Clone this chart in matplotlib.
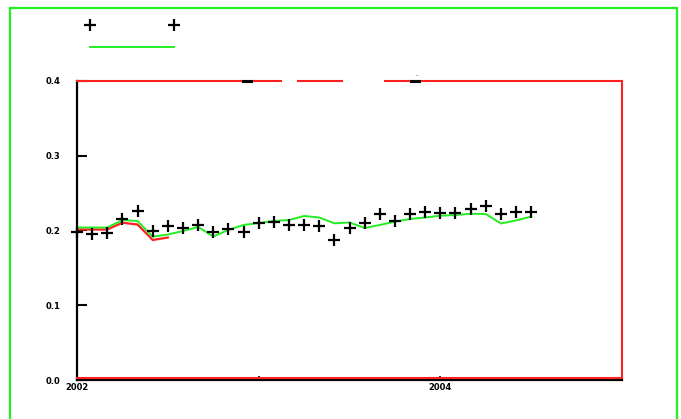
import matplotlib
matplotlib.use("Agg")
import matplotlib.pyplot as plt
from matplotlib.lines import Line2D
from matplotlib.patches import Rectangle
import numpy as np

# Monthly observations, Jan 2002 onward
start_year = 2002.0
observed = [0.198, 0.195, 0.196, 0.215, 0.2265, 0.1997, 0.206, 0.204, 0.208, 0.198,
            0.2016, 0.198, 0.2104, 0.2118, 0.208, 0.2074, 0.2064, 0.1873, 0.203, 0.2096,
            0.2217, 0.2131, 0.2221, 0.2243, 0.2230, 0.2230, 0.2284, 0.2328, 0.2217, 0.2252,
            0.2252]
# Smoothed trend over the full period
trend = [0.204, 0.204, 0.204, 0.214, 0.2127, 0.1917, 0.1946, 0.1993, 0.2047, 0.192,
         0.2007, 0.2074, 0.210, 0.2127, 0.214, 0.2194, 0.2174, 0.2096, 0.2107, 0.2033,
         0.2074, 0.2118, 0.2154, 0.2174, 0.2198, 0.2207, 0.2224, 0.222, 0.2094, 0.2134,
         0.2187]
# Early estimate covering the first months only
early = [0.2013, 0.2013, 0.2013, 0.2104, 0.208, 0.1873, 0.1906]

y_ticks = [0.0, 0.1, 0.2, 0.3, 0.4]
y_tick_labels = ["0.0", "0.1", "0.2", "0.3", "0.4"]
x_ticks = [2002, 2003, 2004]
x_tick_labels = ["2002", "", "2004"]

t_obs = start_year + np.arange(len(observed)) / 12.0
t_trend = start_year + np.arange(len(trend)) / 12.0
t_early = start_year + np.arange(len(early)) / 12.0

W, H = 681, 419
fig = plt.figure(figsize=(W / 100, H / 100), dpi=100)
ax = fig.add_axes([77 / W, 1 - 380 / H, (622 - 77) / W, (380 - 81) / H])

ax.plot(t_early, early, color="#ff2020", lw=1.6, zorder=2)
ax.plot(t_trend, trend, color="#22ee22", lw=1.4, zorder=3)
ax.plot(t_obs, observed, linestyle="none", marker="+", ms=9, mew=1.6,
        color="black", zorder=4, clip_on=False)

ax.set_xlim(2002, 2005)
ax.set_ylim(0.0, 0.4)

ax.set_yticks(y_ticks)
ax.set_yticklabels(y_tick_labels, fontsize=6, fontweight="bold")
ax.set_xticks(x_ticks)
ax.set_xticklabels(x_tick_labels, fontsize=6, fontweight="bold")
ax.tick_params(axis="y", direction="in", length=7, width=1.5, pad=12)
ax.tick_params(axis="x", direction="in", length=3, width=1.2, pad=2)

# frame: black left/bottom axes, red box elsewhere
for side in ("left", "bottom"):
    ax.spines[side].set_color("black")
    ax.spines[side].set_linewidth(1.6)
ax.spines["right"].set_color("#ff2020")
ax.spines["right"].set_linewidth(1.5)
ax.spines["top"].set_visible(False)
top_segments = [(0.0, (281 - 77) / 545), ((298 - 77) / 545, (342 - 77) / 545),
                ((385 - 77) / 545, 1.0)]
for a, b in top_segments:
    ax.plot([a, b], [1.0, 1.0], color="#ff2020", lw=1.5, transform=ax.transAxes,
            clip_on=False, zorder=5)
ax.plot([0, 1], [0.007, 0.007], color="#ff2020", lw=1.5, transform=ax.transAxes,
        clip_on=False, zorder=5)

# small dark marks sitting on the top edge
for cx in (247, 415):
    ax.plot([(cx - 4 - 77) / 545, (cx + 4 - 77) / 545], [1.0, 1.0], color="black",
            lw=2.2, transform=ax.transAxes, clip_on=False, zorder=6)
fig.text(416 / W, 1 - 74 / H, ".", fontsize=5, ha="center", va="center")

# legend handles without labels
handles = [Line2D([], [], linestyle="none", marker="+", ms=9, mew=1.6, color="black"),
           Line2D([], [], color="#22ee22", lw=1.4)]
fig.legend(handles, ["", ""], loc="upper left", bbox_to_anchor=(87 / W, 1 - 21 / H),
           frameon=False, fontsize=8, numpoints=2, handlelength=8.1,
           labelspacing=1.1, borderaxespad=0, borderpad=0, handletextpad=0)

fig.patches.append(Rectangle((10 / W, -0.2), (677 - 10) / W, 1.2 - 8 / H,
                             transform=fig.transFigure, fill=False,
                             edgecolor="#22ee22", lw=1.6))

fig.savefig("out.png", dpi=100)
